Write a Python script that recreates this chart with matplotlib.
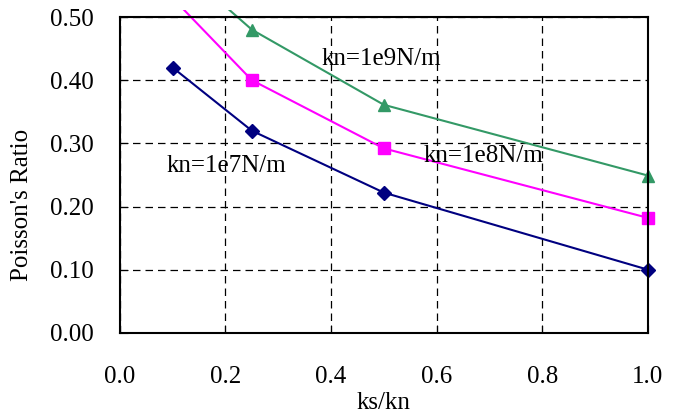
import matplotlib.pyplot as plt
from matplotlib.patches import Rectangle

plt.rcParams['font.family'] = ['Liberation Serif', 'DejaVu Serif']

ratio = [0.1, 0.25, 0.5, 1.0]
kn_1e7 = [0.42, 0.32, 0.222, 0.10]
kn_1e8 = [0.53, 0.40, 0.292, 0.182]
kn_1e9 = [0.59, 0.48, 0.361, 0.249]

fig = plt.figure(figsize=(6.77, 4.15), dpi=100)
ax = fig.add_axes([0.177, 0.198, 0.780, 0.761])

# lines run a little past the top of the plot box, like in the original
clip = Rectangle((-0.05, -0.05), 1.1, 1.05 + 7 / 316, transform=ax.transAxes)

series = [
    (kn_1e7, '#000080', 'D', 7),
    (kn_1e8, '#FF00FF', 's', 8),
    (kn_1e9, '#339966', '^', 9),
]
for vals, col, mk, ms in series:
    line, = ax.plot(ratio, vals, color=col, marker=mk, markersize=ms, lw=1.5)
    line.set_clip_path(clip)

ax.set_xlim(0, 1.0)
ax.set_ylim(0, 0.5)
ax.set_xticks([0, 0.2, 0.4, 0.6, 0.8, 1.0])
ax.set_yticks([0, 0.1, 0.2, 0.3, 0.4, 0.5])
ax.set_xticklabels(['0.0', '0.2', '0.4', '0.6', '0.8', '1.0'])
ax.set_yticklabels(['0.00', '0.10', '0.20', '0.30', '0.40', '0.50'])
ax.tick_params(direction='in', length=6, labelsize=18, color='black')
ax.tick_params(axis='x', pad=24)
ax.tick_params(axis='y', pad=18.5)
ax.grid(True, color='black', linestyle=(0, (6, 4)), linewidth=0.9)
for s in ax.spines.values():
    s.set_linewidth(1.5)

ax.set_xlabel('ks/kn', fontsize=18, labelpad=3)
ax.set_ylabel("Poisson's Ratio", fontsize=18)
ax.yaxis.set_label_coords(-0.165, 0.405)

ax.text(0.496, 0.424, 'kn=1e9N/m', fontsize=18, ha='center', va='baseline')
ax.text(0.689, 0.271, 'kn=1e8N/m', fontsize=18, ha='center', va='baseline')
ax.text(0.201, 0.255, 'kn=1e7N/m', fontsize=18, ha='center', va='baseline')

fig.savefig('out.png')
